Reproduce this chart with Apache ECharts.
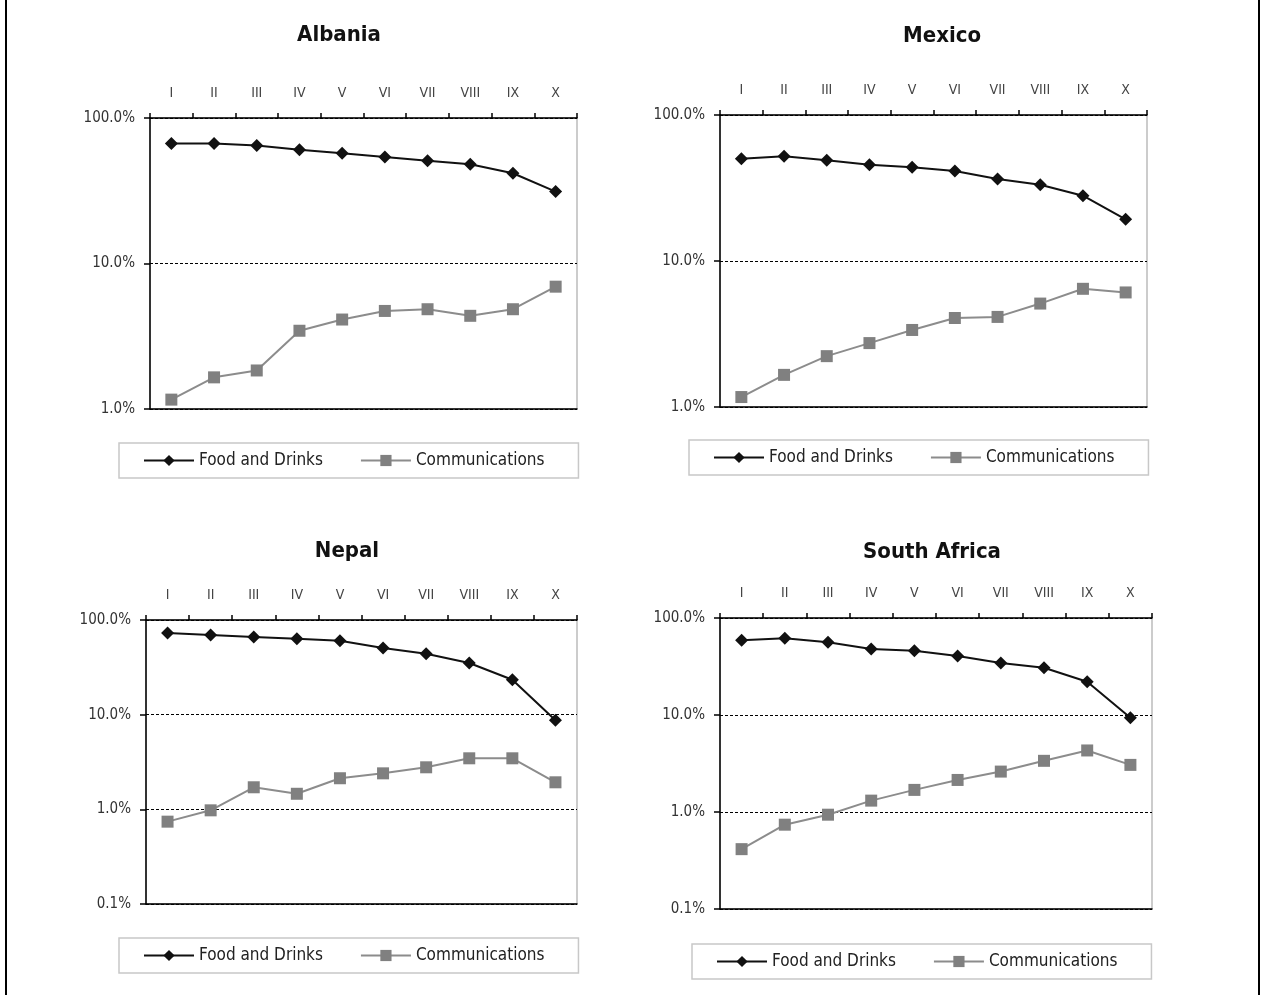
<!DOCTYPE html>
<html>
<head>
<meta charset="utf-8">
<script src="https://cdn.jsdelivr.net/npm/echarts@6/dist/echarts.min.js"></script>
<style>
html,body{margin:0;padding:0;background:#fff;}
#chart{position:absolute;left:0;top:0;width:1261px;height:995px;}
.vb{position:absolute;top:0;height:995px;width:2px;background:#000;}
</style>
</head>
<body>
<div id="chart"></div>
<div class="vb" style="left:5px"></div>
<div class="vb" style="left:1258px"></div>
<script>
const categories = ['I','II','III','IV','V','VI','VII','VIII','IX','X'];
const countries = ['Albania','Mexico','Nepal','South Africa'];
const seriesNames = ['Food and Drinks','Communications'];
const yTicksTop = [1, 10, 100];
const yTicksBottom = [0.1, 1, 10, 100];

const albaniaFood = [66.7, 66.7, 64.6, 60.6, 57.2, 54.0, 50.9, 48.1, 41.7, 31.2];
const albaniaComm = [1.16, 1.65, 1.84, 3.45, 4.12, 4.72, 4.85, 4.37, 4.85, 6.93];
const mexicoFood = [50.2, 52.1, 48.9, 45.7, 43.8, 41.3, 36.5, 33.3, 28.0, 19.3];
const mexicoComm = [1.17, 1.66, 2.23, 2.74, 3.37, 4.07, 4.14, 5.11, 6.45, 6.09];
const nepalFood = [72.9, 69.4, 66.1, 63.5, 60.5, 50.6, 44.1, 35.1, 23.4, 8.71];
const nepalComm = [0.741, 0.976, 1.71, 1.46, 2.13, 2.40, 2.78, 3.46, 3.46, 1.93];
const saFood = [58.8, 61.7, 56.1, 47.9, 46.0, 40.5, 34.3, 30.7, 22.0, 9.36];
const saComm = [0.414, 0.740, 0.938, 1.31, 1.69, 2.14, 2.61, 3.37, 4.31, 3.06];

const foodData = [albaniaFood, mexicoFood, nepalFood, saFood];
const commData = [albaniaComm, mexicoComm, nepalComm, saComm];
const yMins = [yTicksTop[0], yTicksTop[0], yTicksBottom[0], yTicksBottom[0]];
const yMax = 100;

const FONT = '"DejaVu Sans Condensed","Liberation Sans Narrow","Liberation Sans",sans-serif';

const grids = [
  {left:150, top:118, width:427, height:291},
  {left:720, top:115, width:427, height:292},
  {left:146, top:620, width:431, height:284},
  {left:720, top:618, width:432, height:291}
];
const titlePos = [[334,30],[937,31],[342,546],[927,547]];
const legendPos = [[119,443],[689,440],[119,938],[692,944]];

const option = {
  animation:false,
  backgroundColor:'#fff',
  title: countries.map((c,i)=>({
    text:c, left:titlePos[i][0], top:titlePos[i][1], textAlign:'center', textVerticalAlign:'middle',
    textStyle:{fontFamily:FONT, fontWeight:'bold', fontSize:22, color:'#111'}
  })),
  legend: legendPos.map((p,i)=>({
    data:seriesNames, left:p[0], top:p[1], orient:'horizontal',
    borderColor:'#c8c8c8', borderWidth:1.5, padding:[9,34,9,24], itemGap:37,
    itemWidth:50, itemHeight:14,
    textStyle:{fontFamily:FONT, fontSize:17, color:'#222', padding:[0,0,0,0]}
  })),
  grid: grids.map(g=>Object.assign({show:true, borderColor:'#999', borderWidth:1, backgroundColor:'transparent'}, g)),
  xAxis: [].concat(
    grids.map((g,i)=>({
      type:'category', gridIndex:i, position:'top', data:categories, boundaryGap:true,
      axisLine:{lineStyle:{color:'#000', width:1.5}},
      axisTick:{show:true, length:5, inside:false, lineStyle:{color:'#000', width:1.5}},
      axisLabel:{fontFamily:FONT, fontSize:14, color:'#444', margin:18},
      splitLine:{show:false}
    })),
    grids.map((g,i)=>({
      type:'category', gridIndex:i, position:'bottom', data:categories,
      axisLine:{lineStyle:{color:'#000', width:1.5}},
      axisTick:{show:false}, axisLabel:{show:false}, splitLine:{show:false}
    }))
  ),
  yAxis: grids.map((g,i)=>({
    type:'log', logBase:10, gridIndex:i, min:yMins[i], max:yMax,
    axisLine:{show:true, lineStyle:{color:'#000', width:1.5}},
    axisTick:{show:true, length:6, lineStyle:{color:'#000', width:1.5}},
    axisLabel:{fontFamily:FONT, fontSize:15, color:'#333', margin:15, formatter:v=>v.toFixed(1)+'%'},
    splitLine:{show:true, lineStyle:{color:'#000', type:[3,2], width:1}},
    minorTick:{show:false}
  })),
  series: [].concat(...countries.map((c,i)=>[
    {
      name:seriesNames[0], type:'line', xAxisIndex:i, yAxisIndex:i, data:foodData[i],
      symbol:'diamond', symbolSize:13, z:3,
      lineStyle:{color:'#111', width:2}, itemStyle:{color:'#111'}
    },
    {
      name:seriesNames[1], type:'line', xAxisIndex:i, yAxisIndex:i, data:commData[i],
      symbol:'rect', symbolSize:12, z:2,
      lineStyle:{color:'#8c8c8c', width:2}, itemStyle:{color:'#808080'}
    }
  ]))
};

const chart = echarts.init(document.getElementById('chart'), null, {renderer:'canvas'});
chart.setOption(option);
</script>
</body>
</html>
